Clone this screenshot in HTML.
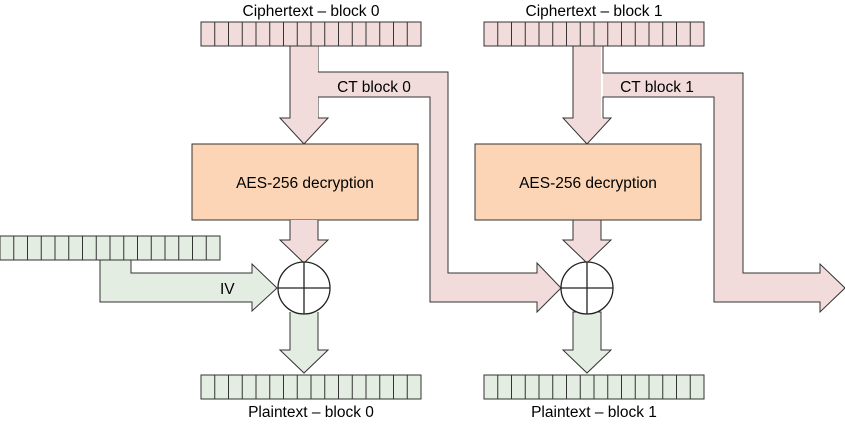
<!DOCTYPE html>
<html><head><meta charset="utf-8"><style>
html,body{margin:0;padding:0;background:#fff;width:845px;height:425px;overflow:hidden}
text{font-family:"Liberation Sans",sans-serif;font-size:15.5px;fill:#000}
</style></head><body>
<svg width="845" height="425" viewBox="0 0 845 425" xmlns="http://www.w3.org/2000/svg">
<defs>
<g id="cells">
<rect x="0" y="0" width="220" height="24" stroke="#333" stroke-width="1"/>
<path d="M13.75 0v24M27.5 0v24M41.25 0v24M55 0v24M68.75 0v24M82.5 0v24M96.25 0v24M110 0v24M123.75 0v24M137.5 0v24M151.25 0v24M165 0v24M178.75 0v24M192.5 0v24M206.25 0v24" stroke="#333" stroke-width="1"/>
</g>
<g id="stage">
<polygon points="318,46 318,72 448,72 448,273 537,273 537,263 561,288 537,312 537,302 430,302 430,97 318,97" fill="#f2dcdb"/>
<polyline points="318,46 318,72 448,72 448,273 537,273 537,263 561,288 537,312 537,302 430,302 430,97 318,97 318,118" fill="none" stroke="#333"/>
<polygon points="290,46 290,118 280,118 304,144 328,118 318,118 318,46" fill="#f2dcdb"/>
<polyline points="290,46 290,118 280,118 304,144 328,118 318,118" fill="none" stroke="#333"/>
<rect x="192" y="144" width="226" height="76" fill="#fbd5b5" stroke="#333"/>
<text x="305" y="188" text-anchor="middle">AES-256 decryption</text>
<polygon points="290,220 290,240 280,240 304,263 328,240 318,240 318,220" fill="#f2dcdb"/>
<polyline points="290,220 290,240 280,240 304,263 328,240 318,240 318,220" fill="none" stroke="#333"/>
<polygon points="290,312 290,350 280,350 304,373 328,350 318,350 318,312" fill="#e4ede2"/>
<polyline points="290,312 290,350 280,350 304,373 328,350 318,350 318,312" fill="none" stroke="#333"/>
<circle cx="304" cy="288" r="26" fill="#fff" stroke="#222" stroke-width="1.3"/>
<path d="M278 288h52M304 262v52" stroke="#222" stroke-width="1.3"/>
<use href="#cells" x="201" y="22" fill="#f2dcdb"/>
<use href="#cells" x="201" y="375" fill="#e4ede2"/>
</g>
</defs>
<polygon points="100,260 100,302 252,302 252,311 277,288 252,264 252,273 131,273 131,260" fill="#e4ede2" stroke="#333"/>
<use href="#cells" x="0" y="236" fill="#e4ede2"/>
<text x="220" y="294">IV</text>
<use href="#stage"/>
<g transform="translate(283,0)">
<polygon points="320,46 320,73 460,73 460,273 537,273 537,264 562,288 537,312 537,302 431,302 431,97 320,97" fill="#f2dcdb"/>
<polyline points="320,46 320,73 460,73 460,273 537,273 537,264 562,288 537,312 537,302 431,302 431,97 320,97 320,118" fill="none" stroke="#333"/>
<polygon points="290,46 290,118 280,118 304,144 328,118 318,118 318,46" fill="#f2dcdb"/>
<polyline points="290,46 290,118 280,118 304,144 328,118 320,118" fill="none" stroke="#333"/>
<rect x="192" y="144" width="226" height="76" fill="#fbd5b5" stroke="#333"/>
<text x="305" y="188" text-anchor="middle">AES-256 decryption</text>
<polygon points="290,220 290,240 280,240 304,263 328,240 318,240 318,220" fill="#f2dcdb" stroke="#333"/>
<polygon points="290,312 290,350 280,350 304,373 328,350 318,350 318,312" fill="#e4ede2" stroke="#333"/>
<circle cx="304" cy="288" r="26" fill="#fff" stroke="#222" stroke-width="1.3"/>
<path d="M278 288h52M304 262v52" stroke="#222" stroke-width="1.3"/>
<use href="#cells" x="201" y="22" fill="#f2dcdb"/>
<use href="#cells" x="201" y="375" fill="#e4ede2"/>
</g>
<text x="311" y="16" text-anchor="middle">Ciphertext – block 0</text>
<text x="594" y="16" text-anchor="middle">Ciphertext – block 1</text>
<text x="374" y="92" text-anchor="middle">CT block 0</text>
<text x="657" y="92" text-anchor="middle">CT block 1</text>
<text x="311" y="417" text-anchor="middle">Plaintext – block 0</text>
<text x="594" y="417" text-anchor="middle">Plaintext – block 1</text>
</svg>
</body></html>
